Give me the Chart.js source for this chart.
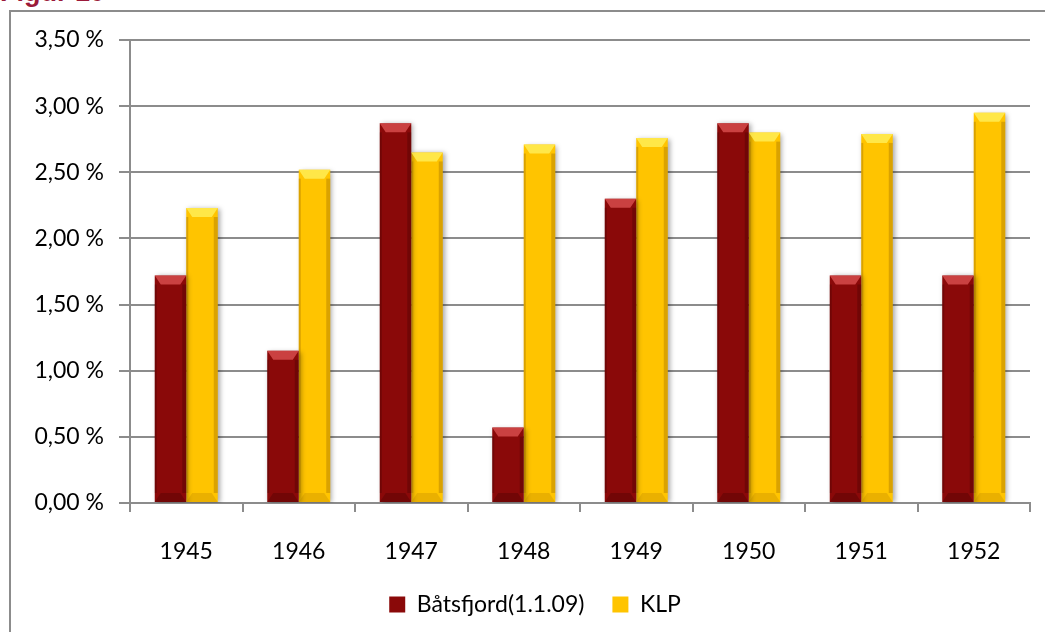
<!DOCTYPE html>
<html>
<head>
<meta charset="utf-8">
<script src="https://cdn.jsdelivr.net/npm/chart.js@4.4.1/dist/chart.umd.min.js"></script>
<style>
  html, body { margin: 0; padding: 0; background: #fff; overflow: hidden; }
  #wrap { position: relative; width: 1045px; height: 632px; overflow: hidden; }
  #figur { position: absolute; left: 0px; top: -23px; font: bold 27px "Liberation Sans", Arial, sans-serif; color: #9b1a3a; line-height: 30px; }
  #ramme { position: absolute; left: 9px; top: 10px; width: 1100px; height: 700px; border: 2px solid #8c8c8c; }
  #tablapro { position: absolute; left: 0; top: 0; }
</style>
</head>
<body>
<div id="wrap">
  <div id="figur">Figur 10</div>
  <div id="ramme"></div>
  <canvas id="tablapro" width="1045" height="632"></canvas>
</div>
<script>
const aar = ['1945', '1946', '1947', '1948', '1949', '1950', '1951', '1952'];
const batsfjord = [1.72, 1.15, 2.87, 0.57, 2.30, 2.87, 1.72, 1.72];
const klp = [2.23, 2.52, 2.65, 2.71, 2.76, 2.80, 2.79, 2.95];
const yTicks = [0, 0.5, 1, 1.5, 2, 2.5, 3, 3.5];

const skrift = { family: 'Lato, "Open Sans", sans-serif', size: 23 };

// skygge bak søylene
const skygge = {
    id: 'skygge',
    beforeDatasetsDraw(chart) {
        const ctx = chart.ctx;
        ctx.save();
        ctx.shadowColor = 'rgba(0,0,0,0.35)';
        ctx.shadowBlur = 5;
        ctx.shadowOffsetX = 2;
        ctx.shadowOffsetY = 1;
    },
    afterDatasetsDraw(chart) {
        chart.ctx.restore();
    }
};

// lys topp og mørk bunn på hver søyle
const fasett = {
    id: 'fasett',
    afterDatasetsDraw(chart) {
        const ctx = chart.ctx;
        const farger = [
            { topp: 'rgba(230,90,90,0.7)', bunn: 'rgba(60,0,0,0.3)', side: 'rgba(40,0,0,0.25)' },
            { topp: 'rgba(255,240,90,0.8)', bunn: 'rgba(150,100,0,0.2)', side: 'rgba(150,100,0,0.35)' }
        ];
        chart.data.datasets.forEach((ds, i) => {
            const f = farger[i];
            chart.getDatasetMeta(i).data.forEach(bar => {
                const l = bar.x - bar.width / 2, r = bar.x + bar.width / 2;
                const t = bar.y, b = bar.base;
                const h = Math.min(9, (b - t) / 2);
                ctx.fillStyle = f.topp;
                ctx.beginPath();
                ctx.moveTo(l, t); ctx.lineTo(r, t); ctx.lineTo(r - 6, t + h); ctx.lineTo(l + 6, t + h);
                ctx.closePath(); ctx.fill();
                ctx.fillStyle = f.bunn;
                ctx.beginPath();
                ctx.moveTo(l, b); ctx.lineTo(r, b); ctx.lineTo(r - 6, b - h); ctx.lineTo(l + 6, b - h);
                ctx.closePath(); ctx.fill();
                ctx.fillStyle = f.side;
                ctx.fillRect(r - 4, t + h, 4, b - t - 2 * h);
                ctx.fillRect(l, t + h, 2, b - t - 2 * h);
            });
        });
    }
};

// forklaringen står litt til høyre for midten
const flyttForklaring = {
    id: 'flyttForklaring',
    afterLayout(chart) {
        chart.legend.left += 20;
        chart.legend.right += 20;
    }
};

const data = {
    labels: aar,
    datasets: [
        { label: 'Båtsfjord(1.1.09)', data: batsfjord, backgroundColor: '#8a0909', borderWidth: 0 },
        { label: 'KLP', data: klp, backgroundColor: '#ffc400', borderWidth: 0 }
    ]
};

const config = {
    type: 'bar',
    data: data,
    options: {
        responsive: false,
        animation: false,
        datasets: { bar: { categoryPercentage: 0.56, barPercentage: 1.0 } },
        layout: { padding: { top: 40, right: 15, bottom: 6, left: 0 } },
        scales: {
            x: {
                grid: { display: true, drawOnChartArea: false, drawTicks: true, tickLength: 9, color: '#8c8c8c', lineWidth: 2, offset: true },
                border: { display: true, color: '#8c8c8c', width: 2 },
                ticks: { color: '#000', font: skrift, padding: 26 },
                afterFit(scale) { scale.height = 62; }
            },
            y: {
                min: 0,
                max: 3.5,
                afterBuildTicks(scale) { scale.ticks = yTicks.map(v => ({ value: v })); },
                grid: { color: '#8c8c8c', lineWidth: 2, tickLength: 11 },
                border: { display: true, color: '#8c8c8c', width: 2 },
                ticks: {
                    color: '#000',
                    font: skrift,
                    padding: 15,
                    callback: v => v.toFixed(2).replace('.', ',') + ' %'
                },
                afterFit(scale) { scale.width = 130; }
            }
        },
        plugins: {
            legend: {
                position: 'bottom',
                labels: { color: '#000', font: skrift, boxWidth: 16, boxHeight: 16, padding: 28 }
            },
            title: { display: false },
            tooltip: { enabled: false }
        }
    },
    plugins: [skygge, fasett, flyttForklaring]
};

const myChart = new Chart(document.getElementById('tablapro'), config);
</script>
</body>
</html>
